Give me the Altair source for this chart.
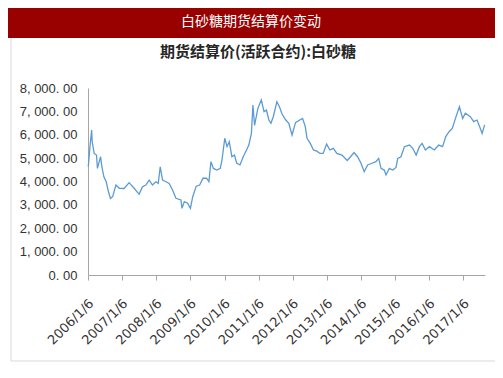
import altair as alt
import pandas as pd

dates = [
    "2006-01-09", "2006-01-27", "2006-02-14", "2006-02-20", "2006-03-13", "2006-04-07", "2006-04-17",
    "2006-05-11", "2006-05-21", "2006-06-04", "2006-06-25", "2006-07-20", "2006-08-13", "2006-09-03",
    "2006-09-27", "2006-11-01", "2006-12-06",
    "2007-01-28", "2007-03-22", "2007-05-15", "2007-07-07", "2007-08-12", "2007-09-17", "2007-10-23", "2007-11-27",
    "2008-01-02", "2008-01-28", "2008-02-18", "2008-03-14", "2008-04-19", "2008-05-24", "2008-06-29",
    "2008-08-04", "2008-09-27", "2008-10-08", "2008-11-02", "2008-12-07",
    "2009-01-06", "2009-01-31", "2009-03-09", "2009-04-15", "2009-05-21", "2009-06-28", "2009-07-23",
    "2009-08-14", "2009-09-09", "2009-10-16", "2009-11-22", "2009-12-10",
    "2010-01-09", "2010-02-02", "2010-02-26", "2010-03-26", "2010-04-22", "2010-05-17", "2010-06-21",
    "2010-07-25", "2010-08-30", "2010-09-23", "2010-10-21", "2010-11-06", "2010-11-24", "2010-12-29",
    "2011-02-04", "2011-03-05", "2011-03-31", "2011-04-26", "2011-05-18", "2011-06-12", "2011-07-20",
    "2011-08-17", "2011-09-13", "2011-10-20", "2011-11-25", "2011-12-30",
    "2012-02-05", "2012-03-29", "2012-04-21", "2012-05-20", "2012-06-07", "2012-07-12", "2012-08-15",
    "2012-09-20", "2012-10-24", "2012-11-27",
    "2013-01-03", "2013-02-07", "2013-03-16", "2013-04-22", "2013-06-16", "2013-08-11", "2013-09-16",
    "2013-10-23", "2013-11-30",
    "2014-01-06", "2014-02-09", "2014-03-18", "2014-05-03", "2014-06-15", "2014-07-14", "2014-08-08",
    "2014-09-12", "2014-09-30", "2014-11-05", "2014-12-11",
    "2015-01-16", "2015-02-03", "2015-03-10", "2015-04-15", "2015-06-08", "2015-07-14", "2015-08-19",
    "2015-09-23", "2015-10-22", "2015-11-26",
    "2016-01-08", "2016-03-01", "2016-04-16", "2016-05-28", "2016-07-01", "2016-08-05", "2016-09-09",
    "2016-10-13", "2016-11-24", "2016-12-29",
    "2017-01-27", "2017-03-21", "2017-04-26", "2017-06-01", "2017-07-06", "2017-07-25", "2017-08-21",
]

prices = [
    4630, 5490, 6200, 5700, 5200, 5130, 4560, 4920, 5060, 4630, 4200, 3990, 3560, 3280, 3350, 3850, 3710,
    3700, 3950, 3710, 3450, 3780, 3850, 4060, 3850,
    3990, 3920, 4630, 4060, 3990, 3920, 3640, 3280, 3210, 2850, 3140, 3070,
    2850, 3350, 3800, 3850, 4140, 4140, 3990, 4850, 4560, 4490, 4560, 4920,
    5850, 5490, 5700, 5060, 5130, 4780, 4710, 5060, 5350, 5560, 6060, 7270, 6400, 7130,
    7490, 6990, 7060, 6630, 6490, 6770, 7410, 7200, 6900, 6650, 6490, 5990,
    6520, 6650, 6700, 6340, 5850, 5630, 5350, 5300, 5200, 5200,
    5600, 5350, 5420, 5200, 5130, 4900, 5060, 5240, 5060,
    4780, 4420, 4710, 4780, 4850, 4990, 4560, 4490, 4280, 4560, 4490,
    4600, 4990, 5060, 5490, 5560, 5420, 5130, 5490, 5630, 5350,
    5490, 5350, 5560, 5490, 5920, 6130, 6270, 6700, 7200, 6700,
    6920, 6770, 6560, 6630, 6270, 6060, 6420,
]

tick_years = list(range(2006, 2018))
y_ticks = [0, 1000, 2000, 3000, 4000, 5000, 6000, 7000, 8000]

banner_title = "白砂糖期货结算价变动"
sub_title = "期货结算价(活跃合约):白砂糖"

df = pd.DataFrame({"date": dates, "price": prices})
one = pd.DataFrame({"k": [0]})

W, H = 397, 187
PL, PT, PR, PB = 80, 80, 10, 95

line = alt.Chart(df).mark_line(color="#5b9bd5", strokeWidth=1.3).encode(
    x=alt.X(
        "date:T",
        scale=alt.Scale(
            type="utc",
            domain=[alt.DateTime(year=2006, month=1, date=6, utc=True),
                    alt.DateTime(year=2017, month=8, date=25, utc=True)],
        ),
        axis=alt.Axis(
            values=[alt.DateTime(year=yr, month=1, date=6, utc=True) for yr in tick_years],
            labelExpr="utcFormat(datum.value, '%Y/%-m/%-d')",
            labelAngle=-45,
            labelAlign="right",
            labelBaseline="middle",
            labelPadding=21,
            labelOffset=3,
            labelFont="DejaVu Sans",
            labelFontSize=13,
            labelColor="#333333",
            grid=False,
            domainColor="#a6a6a6",
            tickColor="#a6a6a6",
            tickSize=5,
            labelOverlap=False,
            title=None,
        ),
    ),
    y=alt.Y(
        "price:Q",
        scale=alt.Scale(domain=[0, 8000], nice=False, zero=True),
        axis=alt.Axis(
            values=y_ticks,
            labelExpr="replace(replace(format(datum.value, ',.2f'), ',', ', '), '.', '. ')",
            ticks=False,
            grid=False,
            labelPadding=11,
            labelFont="Liberation Sans",
            labelFontSize=13,
            labelColor="#333333",
            domainColor="#a6a6a6",
            title=None,
        ),
    ),
)

banner = alt.Chart(one).mark_rect(color="#990000").encode(
    x=alt.value(-PL), x2=alt.value(W + PR), y=alt.value(-PT), y2=alt.value(-50)
)
banner_text = alt.Chart(one).mark_text(
    text=banner_title, color="#ffffff", font="Noto Sans CJK SC", fontSize=14, baseline="middle", align="center"
).encode(x=alt.value(163), y=alt.value(-66))

sub_text = alt.Chart(one).mark_text(
    text=sub_title, color="#262626", font="Noto Sans CJK SC", fontSize=15, fontWeight="bold",
    baseline="middle", align="center"
).encode(x=alt.value(170), y=alt.value(-36))

border_left = alt.Chart(one).mark_rule(color="#d9d9d9", strokeWidth=1).encode(
    x=alt.value(-77), y=alt.value(-50), y2=alt.value(273)
)
border_bottom = alt.Chart(one).mark_rule(color="#d9d9d9", strokeWidth=1).encode(
    x=alt.value(-77), x2=alt.value(W + PR), y=alt.value(273)
)

chart = alt.layer(banner, banner_text, sub_text, border_left, border_bottom, line).properties(
    width=W,
    height=H,
    autosize=alt.AutoSizeParams(type="none"),
    padding={"left": PL, "top": PT, "right": PR, "bottom": PB},
    background="#ffffff",
).configure_view(stroke=None)

chart.save("out.html", embed_options={"renderer": "svg", "actions": False})
